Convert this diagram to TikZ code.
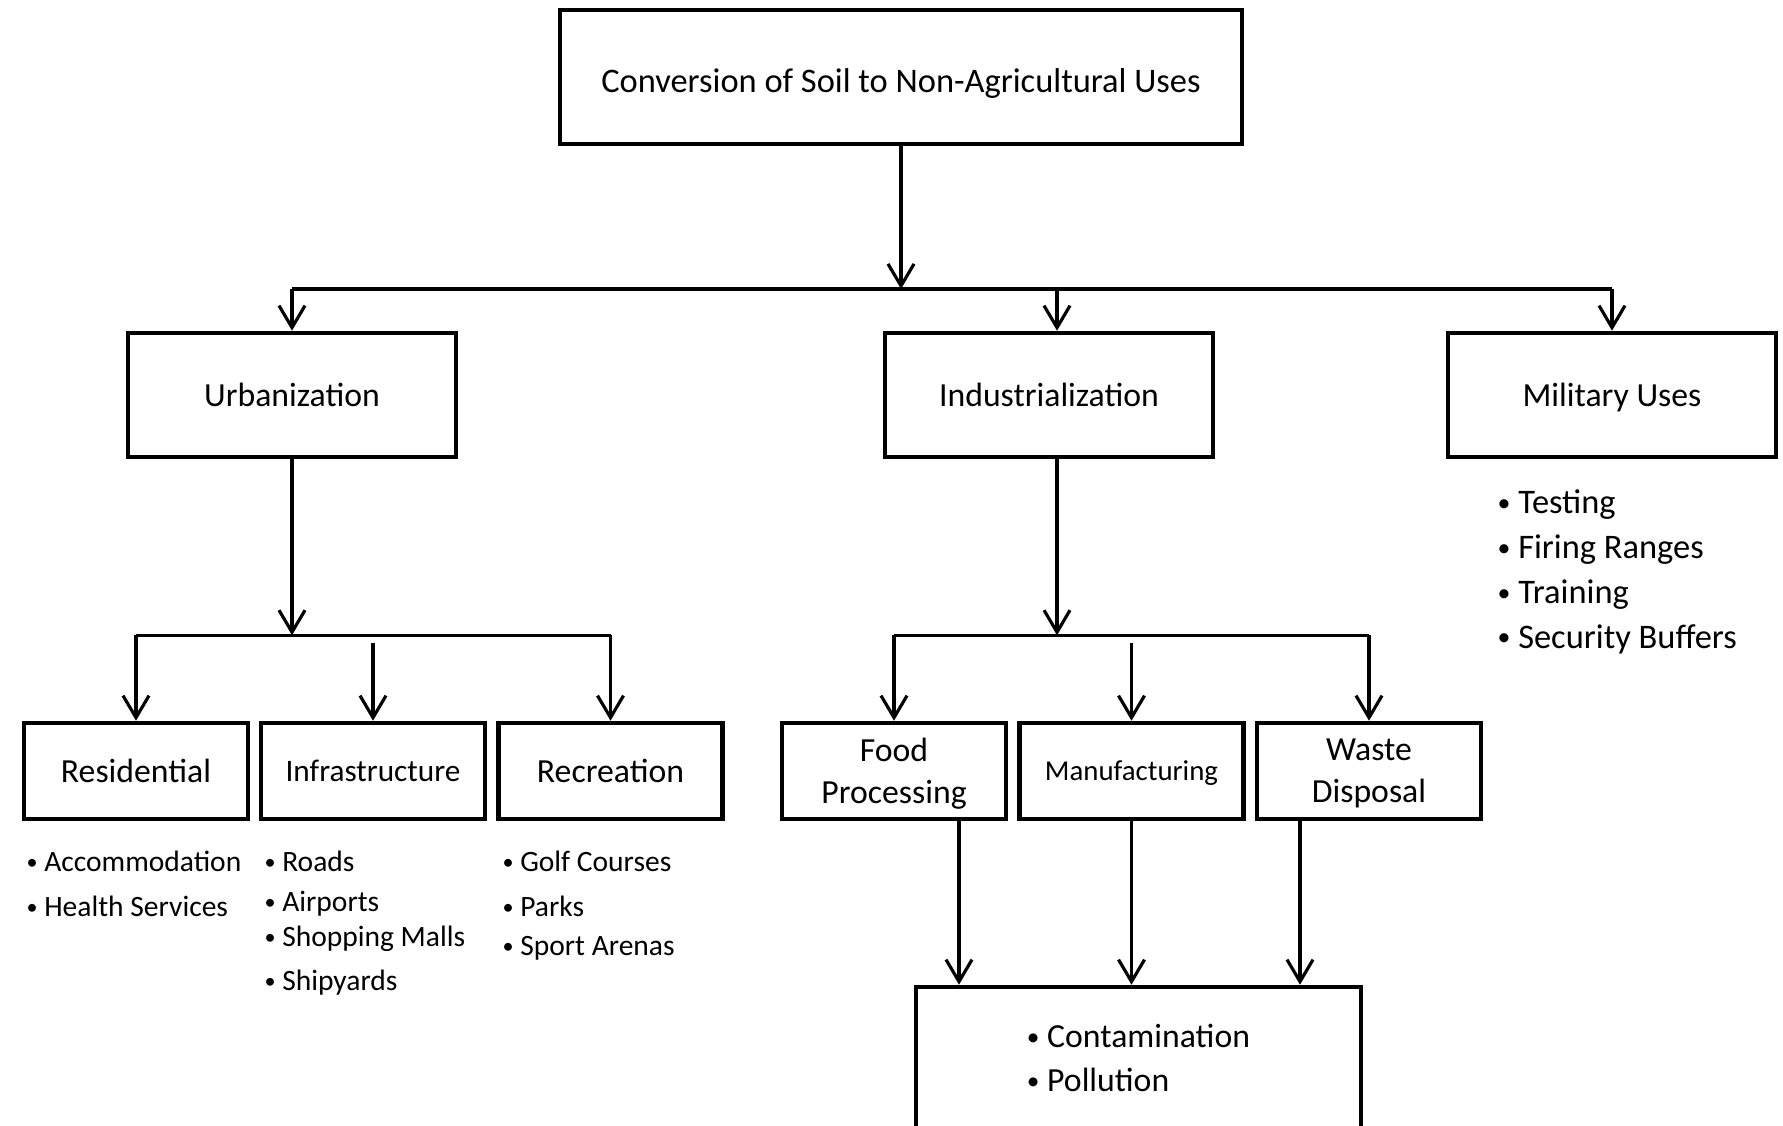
\documentclass[tikz,border=0pt]{standalone}
\usepackage{fontspec}
\usepackage{graphicx}
\setmainfont{Carlito}
\usetikzlibrary{arrows.meta}
\newcommand{\boxfont}{\fontsize{9.6pt}{12pt}\selectfont}
\newcommand{\listfont}{\fontsize{8.4pt}{4.5mm}\selectfont}
\newcommand{\bul}{\raisebox{0.06em}{\scalebox{0.75}{•}}\ }
\tikzset{
	main box/.style={rectangle,draw,line width=1.3pt,font=\boxfont,align=center,inner sep=0pt,text depth=0pt},
	sub box/.style={main box,minimum width=22.4mm,minimum height=9.6mm},
	top box/.style={main box,minimum width=32.8mm,minimum height=12.4mm},
	list/.style={align=left,anchor=base west,inner sep=0pt,font=\listfont}
}

\begin{document}
\begin{tikzpicture}[->,>={Straight Barb[length=2.2mm,width=2.6mm]},line width=0.9pt,
	    x=0.1mm,y=-0.1mm]
	    \clip (0,0) rectangle (1783,1125);
	    \node [main box,minimum width=68.2mm,minimum height=13.4mm,font=\fontsize{9.8pt}{12pt}\selectfont] (conv) at (901,77) {\raisebox{-0.4mm}[\height][0pt]{Conversion of Soil to Non-Agricultural Uses}};
	    \node [top box] (urban) at (292,395) {Urbanization};
	    \node [top box] (indus) at (1049,395) {Industrialization};
	    \node [top box] (milit) at (1612,395) {Military Uses};
	    \node [sub box] (resid) at (136,771) {Residential};
	    \node [sub box,font=\fontsize{8.9pt}{12pt}\selectfont] (infra) at (373,771) {Infrastructure};
	    \node [sub box] (recre) at (610.5,771) {Recreation};
	    \node [sub box] (food) at (894,771) {Food\\Processing};
	    \node [sub box,font=\fontsize{8.2pt}{12pt}\selectfont] (manuf) at (1131.5,771) {Manufacturing};
	    \node [sub box] (waste) at (1369,771) {Waste\\Disposal};
	    \node [main box,minimum width=44.5mm,minimum height=14.2mm,align=left,font=\fontsize{9.6pt}{4.4mm}\selectfont] (contam) at (1138.5,1058) {\bul Contamination\\\bul Pollution};
	    % bullet lists (placed at their last baseline)
	    \node [list] (resid list) at (25,916) {\bul Accommodation\\\bul Health Services};
	    \node [list] (infra list) at (263,990) {\bul Roads\\[-0.5mm]\bul Airports\\[-1mm]\bul Shopping Malls\\[-0.1mm]\bul Shipyards};
	    \node [list] (recre list) at (501,955) {\bul Golf Courses\\\bul Parks\\[-0.6mm]\bul Sport Arenas};
	    \node [list,font=\fontsize{9.8pt}{4.47mm}\selectfont] (milit list) at (1496,648) {\bul Testing\\\bul Firing Ranges\\\bul Training\\\bul Security Buffers};
	    % first level
	    \coordinate (hub) at (901,289);
	    \coordinate (indus top) at ([xshift=0.8mm]indus.north);
	    \draw (conv.south) -- (hub);
	    \draw[-] (urban.north |- hub) -- (milit.north |- hub);
	    \draw (urban.north |- hub) -- (urban.north);
	    \draw (indus top |- hub) -- (indus top);
	    \draw (milit.north |- hub) -- (milit.north);
	    % urbanization branch
	    \path (urban.south) ++(0,176) coordinate (ubus);
	    \path (infra.north |- ubus) ++(0,8) coordinate (infra in);
	    \draw (urban.south) -- (ubus);
	    \draw[-] (resid.north |- ubus) -- (recre.north |- ubus);
	    \draw (resid.north |- ubus) -- (resid.north);
	    \draw (infra in) -- (infra.north);
	    \draw (recre.north |- ubus) -- (recre.north);
	    % industrialization branch
	    \coordinate (indus bot) at ([xshift=0.8mm]indus.south);
	    \path (indus bot) ++(0,176) coordinate (ibus);
	    \path (manuf.north |- ibus) ++(0,8) coordinate (manuf in);
	    \draw (indus bot) -- (ibus);
	    \draw[-] (food.north |- ibus) -- (waste.north |- ibus);
	    \draw (food.north |- ibus) -- (food.north);
	    \draw (manuf in) -- (manuf.north);
	    \draw (waste.north |- ibus) -- (waste.north);
	    % into contamination
	    \coordinate (food out) at ([xshift=6.5mm]food.south);
	    \coordinate (waste out) at ([xshift=-6.9mm]waste.south);
	    \draw (food out) -- (food out |- contam.north);
	    \draw (manuf.south) -- (manuf.south |- contam.north);
	    \draw (waste out) -- (waste out |- contam.north);
\end{tikzpicture}
\end{document}
